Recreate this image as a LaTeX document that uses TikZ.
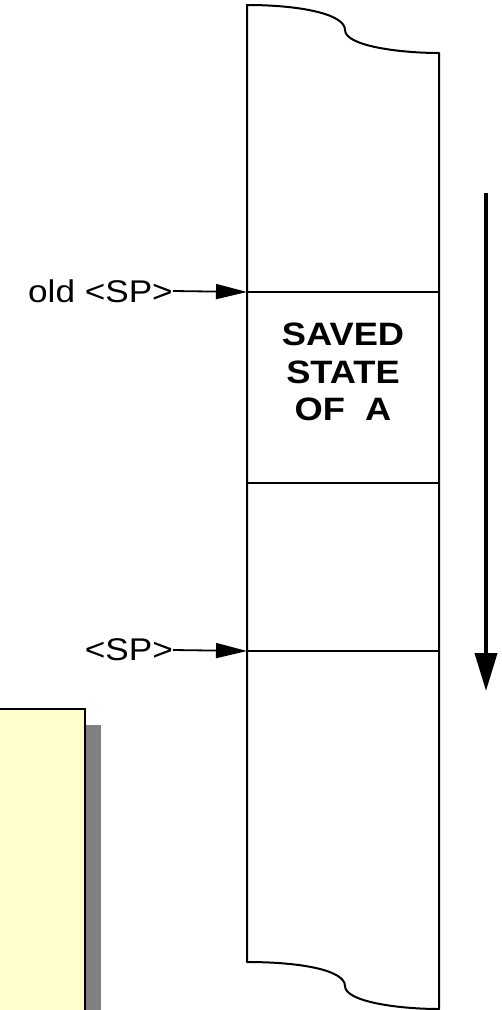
\documentclass[tikz,border=0pt]{standalone}
\usepackage{fontspec}
\newfontfamily\labelfont[FakeStretch=1.12]{Liberation Sans}
\usetikzlibrary{arrows.meta}
\definecolor{notefill}{HTML}{FFFFCC}
\definecolor{shadowgray}{HTML}{808080}
\begin{document}
\begin{tikzpicture}[x=1bp,y=-1bp,
  stackline/.style={line width=2bp,line join=round},
  pointer/.style={line width=1.8bp,-{Triangle[length=31bp,width=15bp]}},
  growth/.style={line width=4bp,-{Triangle[length=38bp,width=22bp]}},
  sptext/.style={anchor=east,inner sep=0pt,font=\labelfont\fontsize{31.5}{36}\selectfont}]
\useasboundingbox (0,0) rectangle (502,1010);
\clip (0,0) rectangle (502,1010);

% Note box in the lower left corner (cut off by the page)
\fill[shadowgray] (86,725) rectangle (101,1020);
\draw[line width=2.2bp,fill=notefill] (-5,709) rectangle (85,1020);

% Stack column with torn top and bottom edges
\draw[stackline] (247,5) .. controls (300,5) and (345,14) .. (345,30)
  .. controls (345,46) and (400,53) .. (439,53) -- (439,1009)
  .. controls (400,1009) and (345,1002) .. (345,986)
  .. controls (345,970) and (300,962) .. (247,962) -- cycle;

% Frame boundaries
\coordinate (oldtop) at (247,292);
\coordinate (sptop) at (247,651);
\draw[stackline] (oldtop) -- (439,292);
\draw[stackline] (247,483) -- (439,483);
\draw[stackline] (sptop) -- (439,651);

\node[align=center,font=\labelfont\bfseries\fontsize{32.5}{37.5}\selectfont] (saved) at (343,372) {SAVED\\STATE\\OF~~A};

% Stack pointers
\node[sptext] (oldsp) at (173,291) {old <SP>};
\node[sptext] (sp) at (173,650) {<SP>};
\draw[pointer] (oldsp.east) -- (oldtop);
\draw[pointer] (sp.east) -- (sptop);

% Direction of growth
\coordinate (growstart) at (486,193);
\coordinate (growend) at (486,691);
\draw[growth] (growstart) -- (growend);
\end{tikzpicture}
\end{document}
